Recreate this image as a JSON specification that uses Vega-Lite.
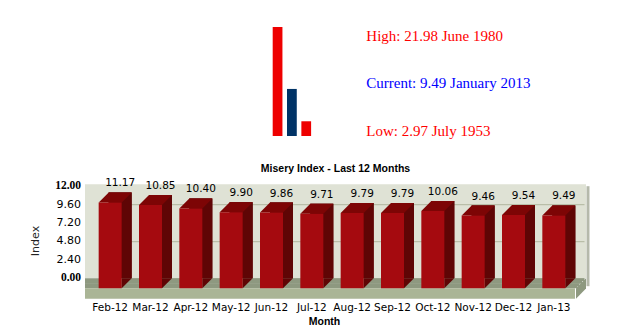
{
  "$schema": "https://vega.github.io/schema/vega-lite/v6.json",
  "padding": {"left": 28, "top": 27, "right": 0, "bottom": 0},
  "background": "white",
  "config": {"view": {"stroke": null}},
  "datasets": {
    "top": [
      {"kind": "High", "value": 21.98, "label": "High: 21.98 June 1980"},
      {"kind": "Current", "value": 9.49, "label": "Current: 9.49 January 2013"},
      {"kind": "Low", "value": 2.97, "label": "Low: 2.97 July 1953"}
    ],
    "months": [
      {"month": "Feb-12", "value": 11.17},
      {"month": "Mar-12", "value": 10.85},
      {"month": "Apr-12", "value": 10.40},
      {"month": "May-12", "value": 9.90},
      {"month": "Jun-12", "value": 9.86},
      {"month": "Jul-12", "value": 9.71},
      {"month": "Aug-12", "value": 9.79},
      {"month": "Sep-12", "value": 9.79},
      {"month": "Oct-12", "value": 10.06},
      {"month": "Nov-12", "value": 9.46},
      {"month": "Dec-12", "value": 9.54},
      {"month": "Jan-13", "value": 9.49}
    ],
    "ticks": [
      {"tick": 0}, {"tick": 2.4}, {"tick": 4.8}, {"tick": 7.2}, {"tick": 9.6}, {"tick": 12}
    ]
  },
  "spacing": 23.2,
  "vconcat": [
    {
      "spacing": 52.4,
      "hconcat": [
        {"width": 133, "height": 109, "data": {"values": []}, "mark": "point"},
        {
          "width": 43, "height": 109,
          "data": {"name": "top"},
          "mark": {"type": "bar"},
          "encoding": {
            "x": {"field": "kind", "type": "nominal", "sort": ["High", "Current", "Low"], "scale": {"paddingInner": 0.32, "paddingOuter": 0.16}, "axis": null},
            "y": {"field": "value", "type": "quantitative", "scale": {"domain": [0, 21.98], "nice": false}, "axis": null},
            "color": {"condition": {"test": "datum.kind === 'Current'", "value": "#003366"}, "value": "#ee0000"}
          }
        },
        {
          "width": 1, "height": 112.6,
          "data": {"name": "top"},
          "mark": {"type": "text", "align": "left", "baseline": "middle", "font": "Liberation Serif", "fontSize": 15},
          "encoding": {
            "y": {"field": "kind", "type": "nominal", "sort": ["High", "Current", "Low"], "scale": {"padding": 0.185}, "axis": null},
            "text": {"field": "label"},
            "color": {"condition": {"test": "datum.kind === 'Current'", "value": "#0000ff"}, "value": "#ff0000"}
          }
        }
      ]
    },
    {
      "width": 501, "height": 94,
      "view": {"fill": "#dfe2d5", "stroke": null},
      "title": {"text": "Misery Index - Last 12 Months", "font": "Liberation Sans", "fontSize": 10.5, "fontWeight": "bold", "frame": "group", "anchor": "middle", "offset": 4.3, "color": "black"},
      "data": {"name": "months"},
      "layer": [
        {
          "mark": {"type": "bar", "width": 23, "color": "#5f0505"},
          "encoding": {
            "x": {"field": "month", "type": "ordinal", "sort": null, "scale": {"range": [15, 499]},
              "axis": {"title": "Month", "titleFont": "Liberation Sans", "titleFontSize": 10.5, "titleFontWeight": "bold", "titleColor": "black", "titleX": 239, "titleY": 43.5, "titleBaseline": "middle", "titleAlign": "center",
                "labelFont": "DejaVu Sans", "labelFontSize": 10.5, "labelColor": "black", "labelAngle": 0, "labelOffset": -10, "labelPadding": 29, "labelBaseline": "middle", "labelOverlap": false, "domain": false, "ticks": false, "grid": false, "zindex": 0}},
            "y": {"field": "value", "type": "quantitative", "scale": {"domain": [0, 12.25], "nice": false},
              "axis": {"title": "Index", "titleFont": "DejaVu Sans", "titleFontSize": 11, "titleFontWeight": "normal", "titleColor": "#222", "titleX": -50, "titleY": 56.3, "titleBaseline": "middle", "titleAlign": "center",
                "values": [0, 2.4, 4.8, 7.2, 9.6, 12], "labels": false, "ticks": false, "domain": false, "grid": true, "gridColor": "#b0b59e", "gridOpacity": 1, "zindex": 0}}
          }
        },
        {
          "data": {"name": "ticks"},
          "transform": [{"filter": "datum.tick > 0 && datum.tick < 12"}],
          "mark": {"type": "text", "align": "right", "baseline": "middle", "dx": -4, "font": "DejaVu Sans", "fontSize": 11, "color": "black"},
          "encoding": {"x": {"value": 0}, "y": {"field": "tick", "type": "quantitative"}, "text": {"field": "tick", "format": ".2f"}}
        },
        {
          "data": {"name": "ticks"},
          "transform": [{"filter": "datum.tick === 0 || datum.tick === 12"}],
          "mark": {"type": "text", "align": "right", "baseline": "middle", "dx": -4, "font": "Liberation Serif", "fontWeight": "bold", "fontSize": 11.5, "color": "black"},
          "encoding": {"x": {"value": 0}, "y": {"field": "tick", "type": "quantitative"}, "text": {"field": "tick", "format": ".2f"}}
        },
        {"data": {"values": [{}]}, "mark": {"type": "rule", "color": "#8e9980", "strokeWidth": 3, "yOffset": 1.5, "xOffset": -1.5, "x2Offset": -1.5}, "encoding": {"y": {"datum": 0}}},
        {"data": {"values": [{}]}, "mark": {"type": "rule", "color": "#8e9980", "strokeWidth": 3, "yOffset": 4, "xOffset": -4, "x2Offset": -4}, "encoding": {"y": {"datum": 0}}},
        {"data": {"values": [{}]}, "mark": {"type": "rule", "color": "#8e9980", "strokeWidth": 3, "yOffset": 6.5, "xOffset": -6.5, "x2Offset": -6.5}, "encoding": {"y": {"datum": 0}}},
        {"data": {"values": [{}]}, "mark": {"type": "rule", "color": "#8e9980", "strokeWidth": 3, "yOffset": 8.5, "xOffset": -8.5, "x2Offset": -8.5}, "encoding": {"y": {"datum": 0}}},
        {"data": {"values": [{}]}, "mark": {"type": "rule", "color": "#aab596", "strokeWidth": 10.6, "yOffset": 15.3, "xOffset": -11, "x2Offset": -10}, "encoding": {"y": {"datum": 0}}},
        {"data": {"values": [{}]}, "mark": {"type": "point", "shape": "M-10,10 L0,0 L0,10.3 L-10,20.6 Z", "size": 4, "filled": true, "opacity": 1, "strokeWidth": 0, "color": "#8e9980"}, "encoding": {"x": {"value": "width"}, "y": {"datum": 0}}},
        {"data": {"values": [{}]}, "mark": {"type": "rule", "color": "#b5b9ab", "strokeWidth": 3, "xOffset": 2, "yOffset": 2, "y2Offset": 8}, "encoding": {"x": {"value": "width"}, "y": {"datum": 12.25}, "y2": {"datum": 0}}},
        {
          "mark": {"type": "bar", "width": 23, "color": "#5f0505"},
          "encoding": {"x": {"field": "month", "type": "ordinal", "sort": null}, "y": {"field": "value", "type": "quantitative"}}
        },
        {
          "mark": {"type": "point", "shape": "M1.5,0 L11.5,0 L1.5,10 Z", "size": 4, "filled": true, "opacity": 1, "strokeWidth": 0, "color": "#5f0505"},
          "encoding": {"x": {"field": "month", "type": "ordinal", "sort": null}, "y": {"datum": 0}}
        },
        {
          "mark": {"type": "point", "shape": "M-11.5,0 L11.5,0 L1.5,10 L-21.5,10 Z", "size": 4, "filled": true, "opacity": 1, "strokeWidth": 0, "color": "#7d0505"},
          "encoding": {"x": {"field": "month", "type": "ordinal", "sort": null}, "y": {"field": "value", "type": "quantitative"}}
        },
        {
          "mark": {"type": "bar", "width": 23, "color": "#a50a0f", "xOffset": -10, "yOffset": 10, "y2Offset": 10},
          "encoding": {"x": {"field": "month", "type": "ordinal", "sort": null}, "y": {"field": "value", "type": "quantitative"}}
        },
        {
          "mark": {"type": "text", "dy": -9, "font": "DejaVu Sans", "fontSize": 10.5, "color": "black", "baseline": "middle"},
          "encoding": {"x": {"field": "month", "type": "ordinal", "sort": null}, "y": {"field": "value", "type": "quantitative"}, "text": {"field": "value", "format": ".2f"}}
        }
      ]
    }
  ]
}
